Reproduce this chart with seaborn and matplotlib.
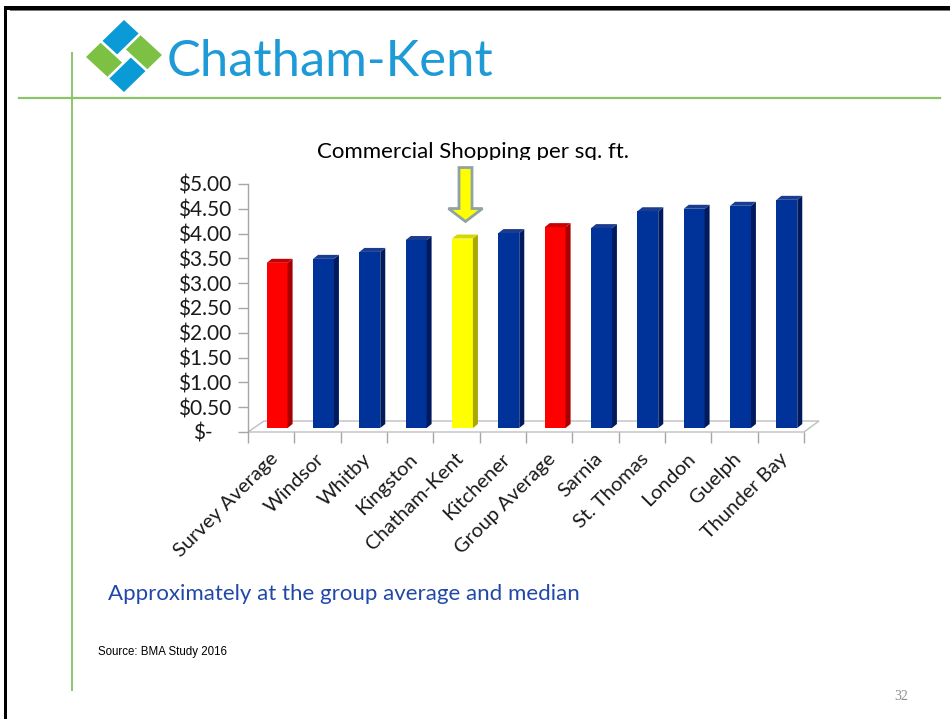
import matplotlib
matplotlib.use("Agg")
import matplotlib.pyplot as plt
import matplotlib.transforms as mtransforms
from matplotlib.patches import Polygon, Rectangle
import seaborn as sns
import pandas as pd

# ---- data -------------------------------------------------------------
categories = ["Survey Average", "Windsor", "Whitby", "Kingston", "Chatham-Kent",
              "Kitchener", "Group Average", "Sarnia", "St. Thomas", "London",
              "Guelph", "Thunder Bay"]
values = [3.33, 3.41, 3.55, 3.79, 3.82, 3.93, 4.05, 4.03, 4.37, 4.42, 4.48, 4.60]
bar_kind = ["avg", "city", "city", "city", "home", "city", "avg", "city",
            "city", "city", "city", "city"]
y_ticks = [0, 0.5, 1, 1.5, 2, 2.5, 3, 3.5, 4, 4.5, 5]
y_tick_labels = ["$-", "$0.50", "$1.00", "$1.50", "$2.00", "$2.50", "$3.00",
                 "$3.50", "$4.00", "$4.50", "$5.00"]
chart_title = "Commercial Shopping per sq. ft."
highlight = "Chatham-Kent"
caption = "Approximately at the group average and median"
source = "Source: BMA Study 2016"
page_no = "32"

front = {"avg": "#FF0000", "city": "#003399", "home": "#FFFF00"}
side = {"avg": "#A80000", "city": "#001A5E", "home": "#A8A800"}
top = {"avg": "#C80000", "city": "#1A3D8F", "home": "#D6D600"}

W, H = 950, 719
fig = plt.figure(figsize=(W / 100, H / 100), dpi=100)
fig.patch.set_facecolor("white")

def fx(px):
    return px / W

def fy(py):
    return 1 - py / H

# ---- slide frame ------------------------------------------------------
fig.add_artist(Rectangle((fx(4), fy(10)), fx(946), 4 / H, transform=fig.transFigure,
                         facecolor="black", edgecolor="none"))
fig.add_artist(Rectangle((fx(10), fy(11)), fx(940), 1 / H, transform=fig.transFigure,
                         facecolor="#777777", edgecolor="none"))
fig.add_artist(Rectangle((fx(4), 0), 3 / W, fy(6), transform=fig.transFigure,
                         facecolor="black", edgecolor="none"))
fig.add_artist(plt.Line2D([fx(19), fx(940)], [fy(97.5), fy(97.5)], color="#8CC46A",
                          lw=1.6, transform=fig.transFigure))
fig.add_artist(plt.Line2D([fx(72), fx(72)], [fy(53), fy(690)], color="#8CC46A",
                          lw=1.4, transform=fig.transFigure))

# ---- logo -------------------------------------------------------------
L = (86.0, 57.0)
u = ((124.0 - 86.0), (20.0 - 57.0))   # toward top corner
v = ((124.0 - 86.0), (92.0 - 57.0))   # toward bottom corner

def logo_pt(a, b):
    x = L[0] + a * u[0] + b * v[0]
    y = L[1] + a * u[1] + b * v[1]
    return (fx(x), fy(y))

t_w, gap = 0.41, 0.025
pieces = [
    ((t_w + gap, 1.0, 0.0, t_w - gap), "#0A9AD6"),            # top blue
    ((0.0, t_w - gap, 0.0, 1 - t_w - gap), "#7CC144"),        # left green
    ((0.0, 1 - t_w - gap, 1 - t_w + gap, 1.0), "#0A9AD6"),    # bottom blue
    ((1 - t_w + gap, 1.0, t_w + gap, 1.0), "#7CC144"),        # right green
]
for (a0, a1, b0, b1), col in pieces:
    poly = [logo_pt(a0, b0), logo_pt(a1, b0), logo_pt(a1, b1), logo_pt(a0, b1)]
    fig.add_artist(Polygon(poly, closed=True, transform=fig.transFigure,
                           facecolor=col, edgecolor="none"))
fig.text(fx(167), fy(76), "Chatham-Kent", fontsize=36.5, color="#1E9BD7",
         family="Lato", ha="left", va="baseline")

# ---- chart ------------------------------------------------------------
ax_left, ax_right, ax_bottom, ax_top = 248, 804, 432, 184
ax = fig.add_axes([fx(ax_left), fy(ax_bottom), fx(ax_right - ax_left),
                   (ax_bottom - ax_top) / H])
ax.set_facecolor("none")

df = pd.DataFrame({"city": categories, "value": values, "kind": bar_kind})
palette = {c: front[k] for c, k in zip(categories, bar_kind)}
sns.barplot(data=df, x="city", y="value", hue="city", palette=palette,
            legend=False, width=0.45, saturation=1, ax=ax, zorder=3)

ax.set_xlim(-0.5, len(categories) - 0.5)
ax.set_ylim(0, 5)

px_x = (len(categories)) / (ax_right - ax_left)   # data units per pixel
px_y = 5 / (ax_bottom - ax_top)

shift_x, shift_y = 6 * px_x, 4 * px_y
depth_x, depth_y = 5 * px_x, 4 * px_y

for patch, kind in zip(ax.patches, bar_kind):
    patch.set_x(patch.get_x() + shift_x)
    patch.set_y(patch.get_y() + shift_y)
    patch.set_edgecolor("none")
    x0 = patch.get_x()
    x1 = x0 + patch.get_width()
    y0 = patch.get_y()
    y1 = y0 + patch.get_height()
    ax.add_patch(Polygon([(x1, y0), (x1 + depth_x, y0 + depth_y),
                          (x1 + depth_x, y1 + depth_y), (x1, y1)],
                         closed=True, facecolor=side[kind], edgecolor="none", zorder=3))
    ax.add_patch(Polygon([(x0, y1), (x1, y1), (x1 + depth_x, y1 + depth_y),
                          (x0 + depth_x, y1 + depth_y)],
                         closed=True, facecolor=top[kind], edgecolor="none", zorder=3))

# floor of the chart
n = len(categories)
floor = Polygon([(-0.5, 0), (n - 0.5, 0), (n - 0.5 + 15 * px_x, 11 * px_y),
                 (-0.5 + 16 * px_x, 11 * px_y)], closed=True, facecolor="white",
                edgecolor="#BFBFBF", lw=1.0, zorder=1, clip_on=False)
ax.add_patch(floor)

# axes styling
for s in ["top", "right", "bottom"]:
    ax.spines[s].set_visible(False)
ax.spines["left"].set_color("#A6A6A6")
ax.spines["left"].set_linewidth(1.0)
ax.set_yticks(y_ticks)
ax.set_yticklabels(y_tick_labels)
ax.tick_params(axis="y", length=7, width=1, color="#A6A6A6", pad=5,
               labelsize=15, labelcolor="#1A1A1A")
for lab in ax.get_yticklabels():
    lab.set_family("Lato")
ax.get_yticklabels()[0].set_transform(
    ax.get_yticklabels()[0].get_transform()
    + mtransforms.ScaledTranslation(-19 / 100, 0, fig.dpi_scale_trans))

ax.set_xticks(range(n))
ax.set_xticks([i - 0.5 for i in range(n + 1)], minor=True)
ax.tick_params(axis="x", which="major", length=0, pad=13)
ax.tick_params(axis="x", which="minor", length=8, width=1, color="#A6A6A6")
ax.set_xticklabels(categories, rotation=45, ha="right", va="top",
                   fontsize=14.5, color="#1A1A1A", family="Lato")
for lab in ax.get_xticklabels():
    lab.set_transform(lab.get_transform()
                      + mtransforms.ScaledTranslation(10 / 100, 0, fig.dpi_scale_trans))
ax.set_xlabel("")
ax.set_ylabel("")

# arrow pointing at the highlighted city
hi = categories.index(highlight)
ax_x = hi + shift_x + 3 * px_x
tip_y = values[hi] + shift_y + 17 * px_y
top_y = tip_y + 54 * px_y
ax.arrow(ax_x, top_y, 0, -(top_y - tip_y), width=13 * px_x, head_width=34 * px_x,
         head_length=13 * px_y, length_includes_head=True, facecolor="#FFFF00",
         edgecolor="#8FA3A6", lw=2.0, clip_on=False, zorder=5)

# chart title, cut at its lower edge by the plot frame
t = fig.text(fx(473), fy(158), chart_title, fontsize=16, color="black",
             family="Lato", ha="center", va="baseline")
clip = mtransforms.TransformedBbox(
    mtransforms.Bbox([[0, fy(160)], [1, 1]]), fig.transFigure)
t.set_clip_box(clip)
t.set_clip_on(True)

# ---- slide texts ------------------------------------------------------
fig.text(fx(108), fy(600), caption, fontsize=16, color="#2148A8",
         family="Lato", ha="left", va="baseline")
fig.text(fx(98), fy(655), source, fontsize=8.3, color="black",
         family="Liberation Sans", ha="left", va="baseline")
fig.text(fx(901), fy(700), page_no, fontsize=10, color="#8C8C8C",
         family="Liberation Serif", ha="center", va="baseline")

fig.savefig("out.png", dpi=100)
